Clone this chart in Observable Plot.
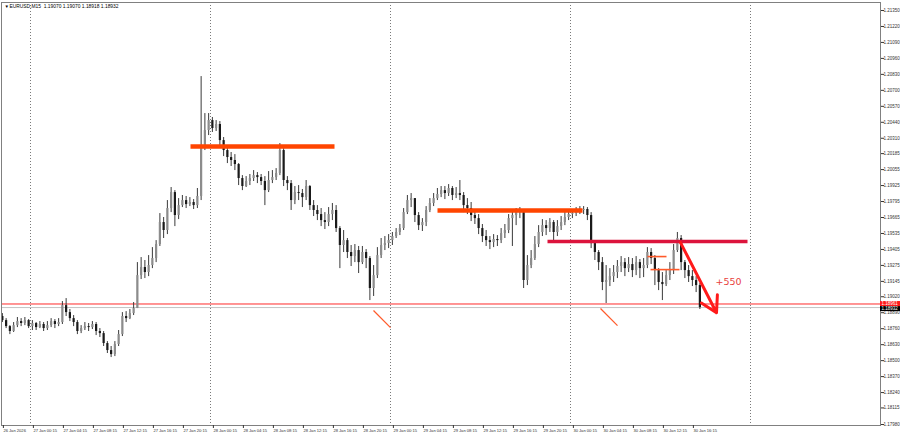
<!DOCTYPE html>
<html><head><meta charset="utf-8">
<script src="https://cdn.jsdelivr.net/npm/d3@7"></script>
<script src="https://cdn.jsdelivr.net/npm/@observablehq/plot@0.6"></script>
<style>html,body{margin:0;padding:0;background:#fff;} #chart{width:900px;height:437px;overflow:hidden}</style>
</head><body><div id="chart"></div>
<script>
// EURUSD 30-minute candles (open = previous close)
const startTime = "2026-01-26T20:00Z";
const stepMinutes = 30;
const firstOpen = 1.18859;
const closes = [
1.18826,1.18777,1.18737,1.18785,1.18818,1.18802,1.18826,1.18777,1.18802,1.18769,
1.18794,1.18761,1.18785,1.18818,1.18794,1.18810,1.18948,1.18891,1.18842,1.18810,
1.18737,1.18761,1.18777,1.18769,1.18794,1.18737,1.18720,1.18639,1.18582,1.18549,
1.18631,1.18712,1.18859,1.18842,1.18883,1.18924,1.19192,1.19258,1.19217,1.19274,
1.19331,1.19445,1.19624,1.19559,1.19738,1.19868,1.19681,1.19762,1.19803,1.19770,
1.19787,1.19762,1.19836,1.20226,1.20373,1.20454,1.20389,1.20422,1.20291,1.20210,
1.20153,1.20129,1.20096,1.19982,1.19917,1.19958,1.19982,1.20006,1.19990,1.19958,
1.19884,1.19966,1.19990,1.20023,1.20210,1.19966,1.19941,1.19803,1.19868,1.19860,
1.19827,1.19917,1.19762,1.19722,1.19689,1.19640,1.19624,1.19689,1.19722,1.19575,
1.19437,1.19477,1.19380,1.19347,1.19396,1.19298,1.19380,1.19331,1.19087,1.19192,
1.19355,1.19437,1.19453,1.19477,1.19510,1.19543,1.19575,1.19705,1.19803,1.19819,
1.19681,1.19599,1.19624,1.19722,1.19779,1.19819,1.19852,1.19884,1.19860,1.19901,
1.19844,1.19860,1.19844,1.19762,1.19738,1.19681,1.19656,1.19575,1.19510,1.19477,
1.19461,1.19486,1.19477,1.19534,1.19559,1.19656,1.19681,1.19705,1.19705,1.19152,
1.19274,1.19331,1.19445,1.19543,1.19599,1.19575,1.19624,1.19543,1.19591,1.19624,
1.19665,1.19689,1.19697,1.19713,1.19722,1.19730,1.19681,1.19453,1.19380,1.19298,
1.19136,1.19152,1.19184,1.19217,1.19266,1.19298,1.19249,1.19282,1.19233,1.19298,
1.19249,1.19274,1.19380,1.19331,1.19233,1.19136,1.19119,1.19192,1.19233,1.19396,
1.19494,1.19298,1.19233,1.19184,1.19152,1.19111,1.18932];
const highs = [
1.18883,1.18842,1.18785,1.18810,1.18851,1.18842,1.18851,1.18834,1.18826,1.18810,
1.18818,1.18810,1.18818,1.18842,1.18834,1.18842,1.18981,1.19005,1.18916,1.18867,
1.18826,1.18785,1.18810,1.18802,1.18818,1.18810,1.18761,1.18737,1.18655,1.18615,
1.18655,1.18745,1.18891,1.18899,1.18916,1.18973,1.19298,1.19339,1.19315,1.19355,
1.19420,1.19477,1.19697,1.19665,1.19803,1.19909,1.19884,1.19819,1.19844,1.19836,
1.19827,1.19811,1.19901,1.20812,1.20511,1.20511,1.20479,1.20454,1.20446,1.20316,
1.20234,1.20194,1.20177,1.20104,1.20006,1.19998,1.20015,1.20047,1.20031,1.20015,
1.19998,1.20039,1.20047,1.20063,1.20267,1.20226,1.19998,1.19966,1.19917,1.19925,
1.19893,1.19966,1.19925,1.19803,1.19762,1.19738,1.19705,1.19746,1.19779,1.19762,
1.19591,1.19559,1.19494,1.19437,1.19445,1.19429,1.19429,1.19404,1.19347,1.19274,
1.19420,1.19494,1.19510,1.19526,1.19543,1.19575,1.19608,1.19738,1.19844,1.19860,
1.19819,1.19705,1.19656,1.19754,1.19819,1.19860,1.19901,1.19917,1.19917,1.19933,
1.19917,1.19909,1.19966,1.19868,1.19819,1.19787,1.19722,1.19689,1.19608,1.19559,
1.19510,1.19526,1.19518,1.19575,1.19608,1.19689,1.19722,1.19738,1.19746,1.19730,
1.19355,1.19396,1.19510,1.19599,1.19648,1.19640,1.19656,1.19640,1.19640,1.19673,
1.19705,1.19722,1.19730,1.19746,1.19754,1.19754,1.19746,1.19705,1.19477,1.19396,
1.19339,1.19274,1.19249,1.19274,1.19315,1.19347,1.19331,1.19339,1.19331,1.19347,
1.19323,1.19331,1.19420,1.19412,1.19355,1.19249,1.19217,1.19233,1.19298,1.19445,
1.19543,1.19518,1.19315,1.19274,1.19233,1.19184,1.19127];
const lows = [
1.18810,1.18761,1.18712,1.18729,1.18769,1.18777,1.18785,1.18761,1.18745,1.18745,
1.18761,1.18737,1.18745,1.18769,1.18761,1.18777,1.18794,1.18859,1.18818,1.18777,
1.18712,1.18720,1.18745,1.18737,1.18753,1.18704,1.18688,1.18615,1.18558,1.18525,
1.18533,1.18615,1.18696,1.18810,1.18834,1.18867,1.18924,1.19160,1.19168,1.19184,
1.19249,1.19298,1.19429,1.19494,1.19526,1.19705,1.19591,1.19648,1.19746,1.19738,
1.19754,1.19730,1.19738,1.19803,1.20210,1.20332,1.20357,1.20365,1.20251,1.20161,
1.20104,1.20080,1.20047,1.19925,1.19884,1.19909,1.19925,1.19958,1.19941,1.19925,
1.19762,1.19868,1.19941,1.19966,1.20006,1.19917,1.19884,1.19722,1.19770,1.19803,
1.19746,1.19803,1.19722,1.19673,1.19640,1.19591,1.19567,1.19591,1.19640,1.19543,
1.19249,1.19380,1.19331,1.19266,1.19298,1.19209,1.19282,1.19249,1.18989,1.19022,
1.19168,1.19331,1.19396,1.19412,1.19437,1.19494,1.19518,1.19559,1.19689,1.19746,
1.19624,1.19559,1.19551,1.19591,1.19705,1.19754,1.19803,1.19827,1.19811,1.19836,
1.19803,1.19819,1.19803,1.19705,1.19689,1.19632,1.19608,1.19526,1.19461,1.19429,
1.19404,1.19420,1.19429,1.19453,1.19494,1.19534,1.19429,1.19599,1.19656,1.19087,
1.19111,1.19249,1.19315,1.19420,1.19510,1.19518,1.19543,1.19477,1.19510,1.19559,
1.19599,1.19640,1.19656,1.19673,1.19689,1.19689,1.19640,1.19412,1.19315,1.19233,
1.19070,1.18965,1.19103,1.19136,1.19168,1.19217,1.19184,1.19217,1.19176,1.19192,
1.19168,1.19176,1.19249,1.19282,1.19111,1.19070,1.18989,1.19103,1.19152,1.19201,
1.19380,1.19233,1.19168,1.19136,1.19103,1.19054,1.18916];

// axis ticks
const yTicks = [1.21350,1.21220,1.21090,1.20960,1.20830,1.20700,1.20570,1.20440,1.20310,1.20185,
  1.20055,1.19925,1.19795,1.19665,1.19535,1.19405,1.19275,1.19145,1.19020,1.18890,1.18760,
  1.18630,1.18500,1.18370,1.18240,1.18115,1.17980];
const xTickTimes = ["2026-01-26T20:15Z","2026-01-27T00:15Z","2026-01-27T04:15Z","2026-01-27T08:15Z",
  "2026-01-27T12:15Z","2026-01-27T16:15Z","2026-01-27T20:15Z","2026-01-28T00:15Z","2026-01-28T04:15Z",
  "2026-01-28T08:15Z","2026-01-28T12:15Z","2026-01-28T16:15Z","2026-01-28T20:15Z","2026-01-29T00:15Z",
  "2026-01-29T04:15Z","2026-01-29T08:15Z","2026-01-29T12:15Z","2026-01-29T16:15Z","2026-01-29T20:15Z",
  "2026-01-30T00:15Z","2026-01-30T04:15Z","2026-01-30T08:15Z","2026-01-30T12:15Z","2026-01-30T16:15Z"];
const xTickLabels = ["26 Jan 2026","27 Jan 00:15","27 Jan 04:15","27 Jan 08:15","27 Jan 12:15",
  "27 Jan 16:15","27 Jan 20:15","28 Jan 00:15","28 Jan 04:15","28 Jan 08:15","28 Jan 12:15",
  "28 Jan 16:15","28 Jan 20:15","29 Jan 00:15","29 Jan 04:15","29 Jan 08:15","29 Jan 12:15",
  "29 Jan 16:15","29 Jan 20:15","30 Jan 00:15","30 Jan 04:15","30 Jan 08:15","30 Jan 12:15","30 Jan 16:15"];
const daySeparators = ["2026-01-27T00:00Z","2026-01-28T00:00Z","2026-01-29T00:00Z","2026-01-30T00:00Z","2026-01-31T00:00Z"];

// annotations
const level1 = {start:"2026-01-27T21:20Z", end:"2026-01-28T16:32Z", price:1.20243};
const level2 = {start:"2026-01-29T06:16Z", end:"2026-01-30T01:36Z", price:1.19722};
const level3 = {start:"2026-01-29T20:56Z", end:"2026-01-30T23:36Z", price:1.19469};
const small1 = {start:"2026-01-30T10:16Z", end:"2026-01-30T12:48Z", price:1.19347};
const small2 = {start:"2026-01-30T10:40Z", end:"2026-01-30T14:32Z", price:1.19241};
const diag1 = {t1:"2026-01-28T21:44Z", p1:1.18908, t2:"2026-01-29T00:00Z", p2:1.18769};
const diag2 = {t1:"2026-01-30T04:00Z", p1:1.18924, t2:"2026-01-30T06:16Z", p2:1.18785};
const arrowSeg = {t1:"2026-01-30T14:40Z", p1:1.19461, t2:"2026-01-30T19:28Z", p2:1.18890};
const gainLabel = {t:"2026-01-30T19:20Z", p:1.19144, text:"+550"};
const redLinePrice = 1.18961;
const bidPrice = 1.18932;
const titleText = "EURUSD,M15  1.19070 1.19070 1.18918 1.18932";

const T = s => new Date(s);
const t0 = +T(startTime), step = stepMinutes * 60000;
const candles = closes.map((c, i) => ({
  t: new Date(t0 + i * step + step / 2),
  o: i === 0 ? firstOpen : closes[i - 1],
  c, h: highs[i], l: lows[i]
}));
const up = candles.filter(d => d.c >= d.o);
const down = candles.filter(d => d.c < d.o);
const lvl = d => [{x1: T(d.start), x2: T(d.end), y: d.price}];
const seg = d => [{x1: T(d.t1), y1: d.p1, x2: T(d.t2), y2: d.p2}];
const labelMap = new Map(xTickTimes.map((s, i) => [+T(s), xTickLabels[i]]));
const fmt5 = d3.format(".5f");
const axisEnd = T("2026-01-31T17:20Z"), boxEnd = T("2026-01-31T20:00Z"), boxText = T("2026-01-31T17:28Z");
const smallFont = "'Liberation Sans', Arial, sans-serif";

const chart = Plot.plot({
  width: 900, height: 437,
  marginLeft: 1, marginRight: 20, marginTop: 2, marginBottom: 12,
  style: {fontFamily: smallFont, background: "#fff", overflow: "visible"},
  x: {type: "utc", domain: [T("2026-01-26T20:08Z"), axisEnd]},
  y: {domain: [1.17972, 1.21415]},
  marks: [
    Plot.ruleX(daySeparators.map(T), {stroke: "#7a7a7a", strokeDasharray: "1,2", strokeWidth: 1}),
    Plot.ruleY([bidPrice], {stroke: "#c4c4c4", strokeWidth: 1}),
    Plot.ruleY([redLinePrice], {stroke: "#ff2a2a", strokeWidth: 1}),
    Plot.ruleX(candles, {x: "t", y1: "l", y2: "h", stroke: "#3a3a3a", strokeWidth: 1}),
    Plot.ruleX(up, {x: "t", y1: "o", y2: "c", stroke: "#8c8c8c", strokeWidth: 2.2}),
    Plot.ruleX(down, {x: "t", y1: "o", y2: "c", stroke: "#1a1a1a", strokeWidth: 2.2}),
    Plot.link(lvl(level1), {x1: "x1", x2: "x2", y1: "y", y2: "y", stroke: "#ff4500", strokeWidth: 4.5}),
    Plot.link(lvl(level2), {x1: "x1", x2: "x2", y1: "y", y2: "y", stroke: "#ff4500", strokeWidth: 4.5}),
    Plot.link(lvl(level3), {x1: "x1", x2: "x2", y1: "y", y2: "y", stroke: "#dc143c", strokeWidth: 3.5}),
    Plot.link(lvl(small1), {x1: "x1", x2: "x2", y1: "y", y2: "y", stroke: "#ff5a2a", strokeWidth: 1.6}),
    Plot.link(lvl(small2), {x1: "x1", x2: "x2", y1: "y", y2: "y", stroke: "#ff5a2a", strokeWidth: 1.6}),
    Plot.link(seg(diag1), {x1: "x1", x2: "x2", y1: "y1", y2: "y2", stroke: "#ff5a2a", strokeWidth: 1.2}),
    Plot.link(seg(diag2), {x1: "x1", x2: "x2", y1: "y1", y2: "y2", stroke: "#ff5a2a", strokeWidth: 1.2}),
    Plot.arrow(seg(arrowSeg), {x1: "x1", x2: "x2", y1: "y1", y2: "y2", stroke: "#ff1a1a", strokeWidth: 3, headLength: 9, bend: 0}),
    Plot.text([gainLabel], {x: d => T(d.t), y: "p", text: "text", fill: "#e8413c", fontSize: 9.5, textAnchor: "start", fontFamily: "'DejaVu Sans', sans-serif"}),
    Plot.frame({stroke: "#808080"}),
    Plot.axisY(yTicks, {anchor: "right", tickSize: 3, tickPadding: 0, tickFormat: fmt5, fontSize: 4.5, color: "#333"}),
    Plot.axisX(xTickTimes.map(T), {anchor: "bottom", tickSize: 3, tickPadding: 1, tickFormat: d => labelMap.get(+d), textAnchor: "start", dx: 1, fontSize: 4.1, color: "#333"}),
    Plot.rect([{y1: 1.18940, y2: 1.18981}], {x1: axisEnd, x2: boxEnd, y1: "y1", y2: "y2", fill: "#ff1a1a"}),
    Plot.rect([{y1: 1.18899, y2: 1.18940}], {x1: axisEnd, x2: boxEnd, y1: "y1", y2: "y2", fill: "#000"}),
    Plot.text([redLinePrice], {x: boxText, y: d => 1.18961, text: d => fmt5(d), fill: "#fff", fontSize: 4.5, textAnchor: "start"}),
    Plot.text([bidPrice], {x: boxText, y: d => 1.18920, text: d => fmt5(d), fill: "#fff", fontSize: 4.5, textAnchor: "start"}),
    Plot.text(["\u25BC"], {frameAnchor: "top-left", dx: 3, dy: 2, fontSize: 4.5, fill: "#000", textAnchor: "start", lineAnchor: "top"}),
    Plot.text([titleText], {frameAnchor: "top-left", dx: 8, dy: 2, fontSize: 4.9, fill: "#000", textAnchor: "start", lineAnchor: "top"})
  ]
});
document.getElementById("chart").append(chart);
</script>
</body></html>
